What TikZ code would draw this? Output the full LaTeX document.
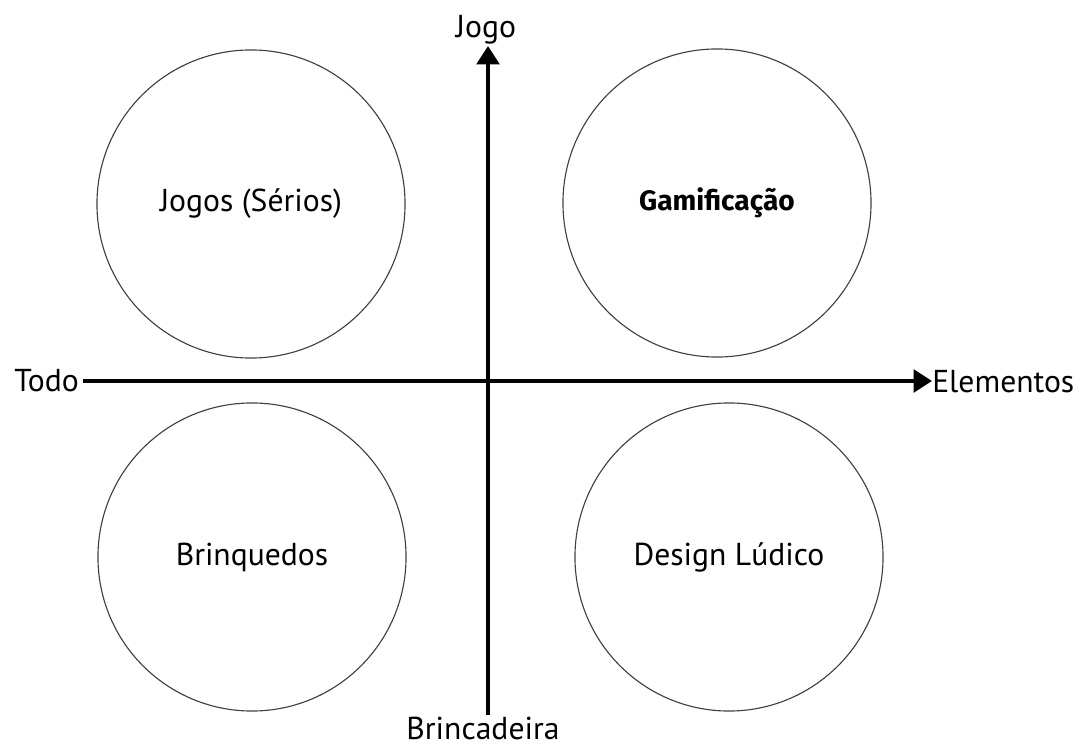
\documentclass[tikz,border=0pt]{standalone}
\usepackage{fontspec}
\setmainfont{PT Sans}
\newfontfamily\gamfont{Fira Sans}
\usetikzlibrary{arrows.meta}

\tikzset{
  quad/.style={circle,draw=black!75,line width=0.8pt,minimum size=7.7cm,inner sep=0pt,font=\fontsize{22.5}{26}\selectfont},
  axis/.style={line width=2.6pt,-{Triangle[width=16pt,length=13pt]}},
  axlabel/.style={inner sep=0pt,font=\fontsize{22.5}{26}\selectfont}
}

\begin{document}
\begin{tikzpicture}[x=0.025cm,y=-0.025cm]
        \useasboundingbox (0,0) rectangle (1080,747);
        % Axis ends
        \coordinate (xl) at (83,381);
        \coordinate (xr) at (932,381);
        \coordinate (yb) at (488,715);
        \coordinate (yt) at (488,46);
        % Axes
        \draw[axis] (xl) -- (xr);
        \draw[axis] (yb) -- (yt);
        \node[axlabel,anchor=east] (todo) at (79,381) {Todo};
        \node[axlabel,anchor=west] (elem) at (932,382) {Elementos};
        \node[axlabel,anchor=base] (jogo) at (486,38) {Jogo};
        \node[axlabel,anchor=base] (brinc) at (483,739) {Brincadeira};
        % Quadrants
        \node[quad] (serios) at (251,204) {Jogos (Sérios)};
        \node[quad,font=\gamfont\bfseries\fontsize{20}{23}\selectfont] (gamif) at (717,203) {Gamificação};
        \node[quad] (brinq) at (252,557) {Brinquedos};
        \node[quad] (ludico) at (729,557) {Design Lúdico};
\end{tikzpicture}
\end{document}
